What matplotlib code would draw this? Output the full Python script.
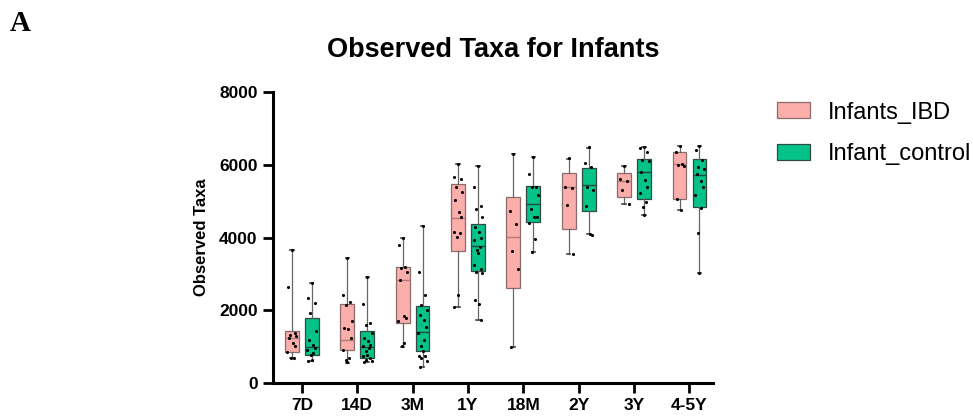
import numpy as np
import matplotlib.pyplot as plt
from matplotlib.patches import Patch

plt.rcParams['font.family'] = ['Liberation Sans', 'DejaVu Sans']

categories = ['7D', '14D', '3M', '1Y', '18M', '2Y', '3Y', '4-5Y']
groups = ['Infants_IBD', 'Infant_control']

# box statistics (whisker low, q1, median, q3, whisker high)
ibd_min = [690, 550, 1000, 2100, 980, 3550, 4920, 4750]
ibd_q1 = [840, 910, 1660, 3640, 2610, 4230, 5100, 5060]
ibd_med = [1230, 1190, 2830, 4530, 4020, 5380, 5560, 6010]
ibd_q3 = [1420, 2170, 3200, 5470, 5100, 5780, 5760, 6350]
ibd_max = [3660, 3430, 3980, 6010, 6290, 6170, 5960, 6510]

ctl_min = [600, 570, 440, 1740, 3590, 4090, 4620, 3020]
ctl_q1 = [780, 690, 870, 3090, 4430, 4730, 5060, 4830]
ctl_med = [980, 1000, 1390, 3780, 4920, 5440, 5800, 5730]
ctl_q3 = [1800, 1420, 2120, 4370, 5420, 5920, 6150, 6150]
ctl_max = [2760, 2910, 4320, 5960, 6200, 6470, 6490, 6510]

# individual samples
ibd_pts = [
    [3657, 2651, 1372, 1326, 1280, 1234, 1097, 1005, 840, 686, 690],
    [3429, 2423, 2240, 2148, 1718, 1509, 1481, 1234, 914, 686, 640, 566],
    [3978, 3795, 3200, 3155, 3063, 2834, 1829, 1783, 1692, 1097, 1005],
    [6008, 5651, 5596, 5376, 5258, 5029, 4709, 4572, 4161, 4115, 4024, 2423, 2103],
    [6291, 4727, 4362, 3630, 3136, 977],
    [6173, 5395, 5349, 4892, 3548],
    [5962, 5596, 5559, 5304, 4920],
    [6511, 6356, 6017, 5990, 5962, 5056, 4755],
]
ctl_pts = [
    [2761, 2332, 2195, 1921, 1417, 1189, 1052, 960, 914, 823, 777, 640, 600],
    [2908, 2176, 1645, 1600, 1372, 1234, 1143, 1052, 1005, 960, 868, 777, 731, 686, 640, 594, 566],
    [4324, 3045, 2423, 2148, 2011, 1874, 1737, 1554, 1372, 1189, 1005, 868, 749, 731, 686, 594, 439],
    [5962, 5395, 4864, 4773, 4572, 4298, 4161, 3978, 3932, 3749, 3658, 3566, 3246, 3127, 3063, 3017, 2285, 2176, 1737],
    [6200, 5742, 5395, 5376, 5166, 4773, 4572, 4554, 4389, 3950, 3594],
    [6475, 6036, 5926, 5395, 5304, 4874, 4088, 4069],
    [6493, 6447, 6356, 6127, 6109, 5807, 5578, 5376, 5230, 4983, 4828, 4618],
    [6511, 6401, 6127, 5926, 5871, 5743, 5559, 5376, 5166, 4801, 4115, 3017],
]

pink = '#FBAEAA'
green = '#05C289'

fig = plt.figure(figsize=(9.73, 4.2), dpi=100)
ax = fig.add_axes([0.2806, 0.088, 0.4525, 0.693])

x = np.arange(len(categories))
offset = 0.18
width = 0.25
jit = np.array([0.0, -0.07, 0.05, -0.03, 0.08, -0.05, 0.02, 0.06, -0.08, 0.03, -0.02])


def stats(lo, q1, med, q3, hi):
    return [dict(whislo=a, q1=b, med=c, q3=d, whishi=e, fliers=[])
            for a, b, c, d, e in zip(lo, q1, med, q3, hi)]


sets = [
    (stats(ibd_min, ibd_q1, ibd_med, ibd_q3, ibd_max), ibd_pts, -offset, pink, '#8a6c6c', '#b07a78'),
    (stats(ctl_min, ctl_q1, ctl_med, ctl_q3, ctl_max), ctl_pts, offset, green, '#2f4a3e', '#1f4a38'),
]

for st, pts, off, col, edge, medc in sets:
    ax.bxp(st, positions=x + off, widths=width, showfliers=False,
           patch_artist=True, capwidths=0.06,
           boxprops=dict(facecolor=col, edgecolor=edge, linewidth=0.9),
           medianprops=dict(color=medc, linewidth=1.0),
           whiskerprops=dict(color='#666666', linewidth=0.9),
           capprops=dict(color='#444444', linewidth=1.2))
    for i, vals in enumerate(pts):
        n = len(vals)
        xs = x[i] + off + np.resize(jit, n)
        ax.scatter(xs, vals, s=5, color='black', zorder=4, linewidths=0)

ax.set_xlim(-0.52, 7.43)
ax.set_ylim(0, 8000)
ax.set_yticks([0, 2000, 4000, 6000, 8000])
ax.set_xticks(x)
ax.set_xticklabels(categories)

for s in ['top', 'right']:
    ax.spines[s].set_visible(False)
for s in ['left', 'bottom']:
    ax.spines[s].set_linewidth(2.2)
ax.tick_params(axis='both', length=7, width=2, labelsize=12.5, pad=4)
for lbl in ax.get_xticklabels() + ax.get_yticklabels():
    lbl.set_fontweight('bold')

ax.set_ylabel('Observed Taxa', fontsize=12, fontweight='bold', labelpad=7)

fig.text(0.5067, 0.882, 'Observed Taxa for Infants', ha='center', va='center',
         fontsize=19.5, fontweight='bold')
fig.text(0.010, 0.943, 'A', ha='left', va='center', fontsize=21,
         fontweight='bold', family='Liberation Serif')

handles = [Patch(facecolor=pink, edgecolor='#8a6c6c', linewidth=0.9),
           Patch(facecolor=green, edgecolor='#2f4a3e', linewidth=0.9)]
fig.legend(handles, groups, loc='upper left', bbox_to_anchor=(0.799, 0.758),
           frameon=False, fontsize=17, handlelength=1.4, handleheight=0.68,
           handletextpad=0.72, labelspacing=0.82, borderpad=0, borderaxespad=0)

fig.savefig('out.png', dpi=100)
